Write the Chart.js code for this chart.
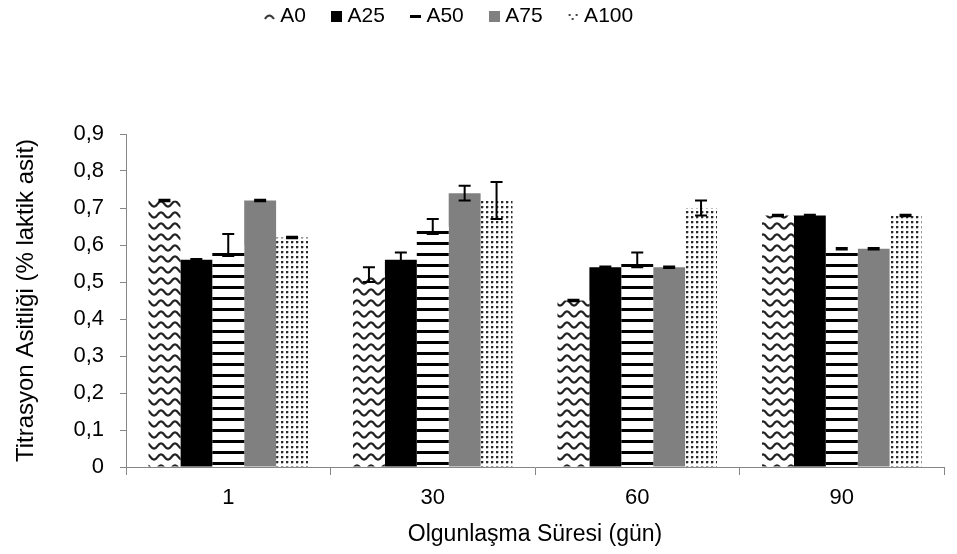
<!DOCTYPE html>
<html><head><meta charset="utf-8">
<script src="https://cdn.jsdelivr.net/npm/chart.js@4.4.0/dist/chart.umd.min.js"></script>
<style>html,body{margin:0;padding:0;background:#fff;}#wrap{width:957px;height:554px;}</style>
</head><body><div id="wrap"><canvas id="c" width="957" height="554"></canvas></div>
<script>
const categories = ["1", "30", "60", "90"];
const seriesNames = ["A0", "A25", "A50", "A75", "A100"];
const A0 = [0.72, 0.52, 0.45, 0.68];
const A25 = [0.56, 0.56, 0.54, 0.68];
const A50 = [0.60, 0.65, 0.56, 0.59];
const A75 = [0.72, 0.74, 0.54, 0.59];
const A100 = [0.62, 0.72, 0.70, 0.68];
const errA0 = [0.002, 0.02, 0.002, 0.002];
const errA25 = [0.002, 0.02, 0.002, 0.002];
const errA50 = [0.03, 0.02, 0.02, 0.002];
const errA75 = [0.002, 0.02, 0.002, 0.002];
const errA100 = [0.002, 0.05, 0.02, 0.002];
const yTicks = [0, 0.1, 0.2, 0.3, 0.4, 0.5, 0.6, 0.7, 0.8, 0.9];

const FONT = 'Liberation Sans';
function tile(w, h, draw) {
  const c = document.createElement('canvas'); c.width = w; c.height = h;
  const g = c.getContext('2d'); g.fillStyle = '#fff'; g.fillRect(0, 0, w, h); draw(g);
  return c;
}
const ctx0 = document.getElementById('c').getContext('2d');
function drawWave(g) {
  g.strokeStyle = '#222'; g.lineWidth = 2.2;
  g.beginPath();
  for (let x = -1; x <= 15; x += 0.5) {
    const y = 6 + 2.6 * Math.cos(2 * Math.PI * x / 14);
    if (x === -1) g.moveTo(x, y); else g.lineTo(x, y);
  }
  g.stroke();
}
const waveTile = tile(14, 11, drawWave);
const stripeTile = tile(8, 11, g => { g.fillStyle = '#000'; g.fillRect(0, 0, 8, 3); });
const dotTile = tile(5, 5, g => { g.fillStyle = '#2a2a2a'; g.fillRect(1, 1, 2, 2); g.fillStyle = '#bbb'; g.fillRect(3, 1, 1, 2); g.fillRect(1, 3, 2, 1); });
const wave = ctx0.createPattern(waveTile, 'repeat');
const stripes = ctx0.createPattern(stripeTile, 'repeat');
const dots = ctx0.createPattern(dotTile, 'repeat');

// legend icons (11x11)
function icon(fill) {
  const c = document.createElement('canvas'); c.width = 11; c.height = 11;
  const g = c.getContext('2d');
  g.fillStyle = fill; g.fillRect(0, 0, 11, 11);
  return c;
}
const icons = [
  (() => { const c = document.createElement('canvas'); c.width = 11; c.height = 11; const g = c.getContext('2d');
    g.strokeStyle = '#333'; g.lineWidth = 2; g.beginPath(); g.moveTo(1, 8); g.quadraticCurveTo(5.5, 1, 10, 8); g.stroke(); return c; })(),
  icon('#000000'),
  (() => { const c = document.createElement('canvas'); c.width = 11; c.height = 11; const g = c.getContext('2d');
    g.fillStyle = '#000'; g.fillRect(0, 4, 11, 3); return c; })(),
  icon('#808080'),
  (() => { const c = document.createElement('canvas'); c.width = 11; c.height = 11; const g = c.getContext('2d');
    g.fillStyle = '#444'; g.fillRect(1, 3, 2, 2); g.fillRect(8, 3, 2, 2); g.fillRect(4, 7, 2, 2); return c; })()
];

const fills = [wave, '#000000', stripes, '#808080', dots];
const values = [A0, A25, A50, A75, A100];
const errs = [errA0, errA25, errA50, errA75, errA100];

const errorPlugin = {
  id: 'errbars',
  afterDatasetsDraw(chart) {
    const ctx = chart.ctx, y = chart.scales.y;
    ctx.save(); ctx.strokeStyle = '#000'; ctx.lineWidth = 2;
    chart.data.datasets.forEach((ds, i) => {
      const meta = chart.getDatasetMeta(i);
      meta.data.forEach((bar, j) => {
        const v = ds.data[j], e = errs[i][j];
        const yt = y.getPixelForValue(v + e), yb = y.getPixelForValue(v - e), x = bar.x;
        ctx.beginPath();
        ctx.moveTo(x, yt); ctx.lineTo(x, yb);
        ctx.moveTo(x - 6, yt); ctx.lineTo(x + 6, yt);
        ctx.moveTo(x - 6, yb); ctx.lineTo(x + 6, yb);
        ctx.stroke();
      });
    });
    ctx.restore();
  }
};
const legendSpace = {
  id: 'legendSpace',
  beforeInit(chart) {
    const fit = chart.legend.fit;
    chart.legend.fit = function () { fit.bind(chart.legend)(); this.height = 158; };
  }
};

new Chart(document.getElementById('c'), {
  type: 'bar',
  data: {
    labels: categories,
    datasets: seriesNames.map((n, i) => ({
      label: n, data: values[i], backgroundColor: fills[i], borderWidth: 0,
      pointStyle: icons[i],
      categoryPercentage: 0.78, barPercentage: 1.0
    }))
  },
  options: {
    responsive: false, animation: false,
    layout: { padding: { left: -42, right: 13, top: -24, bottom: 0 } },
    plugins: {
      tooltip: { enabled: false },
      legend: {
        position: 'top',
        labels: { font: { family: FONT, size: 21 }, color: '#000', usePointStyle: true, pointStyleWidth: 1, boxHeight: 11, padding: 30 }
      }
    },
    scales: {
      x: {
        grid: { display: true, drawOnChartArea: false, offset: true, color: '#868686', tickLength: 8 },
        border: { color: '#868686' },
        ticks: { font: { family: FONT, size: 22 }, color: '#000', padding: 10 },
        title: { display: true, text: 'Olgunlaşma Süresi (gün)', font: { family: FONT, size: 23 }, color: '#000', padding: { top: 4, bottom: 6 } },
        afterFit(s) { s.height = 87; }
      },
      y: {
        min: 0, max: 0.9,
        afterBuildTicks(s) { s.ticks = yTicks.map(v => ({ value: v })); },
        grid: { display: true, drawOnChartArea: false, color: '#868686', tickLength: 6 },
        border: { color: '#868686' },
        ticks: { font: { family: FONT, size: 22 }, color: '#000', padding: 16,
          callback: v => v === 0 ? '0' : v.toFixed(1).replace('.', ',') },
        title: { display: true, text: 'Titrasyon Asitliği (% laktik asit)', font: { family: FONT, size: 24 }, color: '#000', padding: { top: 54, bottom: 4 } },
        afterFit(s) { s.width = 168; }
      }
    }
  },
  plugins: [legendSpace, errorPlugin]
});
</script></body></html>
